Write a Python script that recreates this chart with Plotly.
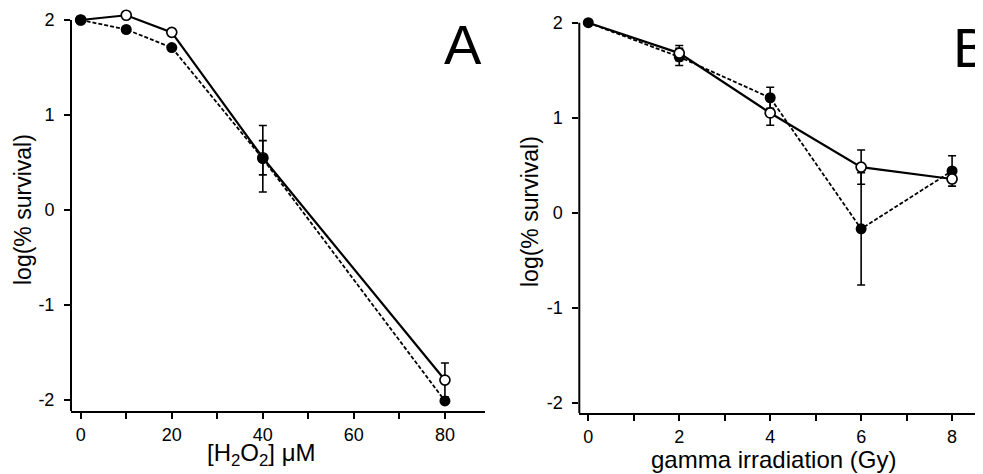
import plotly.graph_objects as go

# ---- data ----
h2o2_uM = [0, 10, 20, 40, 80]
A_filled = [2.0, 1.90, 1.71, 0.54, -2.01]
A_filled_err = [0, 0, 0, 0.35, 0]
A_open = [2.0, 2.05, 1.87, 0.55, -1.79]
A_open_err = [0, 0, 0, 0.18, 0.18]

gamma_Gy = [0, 2, 4, 6, 8]
B_filled = [2.0, 1.64, 1.21, -0.17, 0.44]
B_filled_err = [0, 0.09, 0.11, 0.59, 0.16]
B_open = [2.0, 1.68, 1.05, 0.48, 0.355]
B_open_err = [0, 0.08, 0.13, 0.18, 0]

x_ticks_A = [0, 20, 40, 60, 80]
x_ticks_B = [0, 2, 4, 6, 8]
y_ticks = [-2, -1, 0, 1, 2]
y_tick_text = ["-2", "-1", "0", "1", "2"]

FONT = "Liberation Sans, Arial, Helvetica, sans-serif"
# page body has an 8px margin: figure is placed at (8, 8) in the 983x474 window
OFF = 8
W, H = 983 - OFF, 474 - OFF


def fx(px):
    return (px - OFF) / W


def fy(py):
    return 1 - (py - OFF) / H


fig = go.Figure()


def err(arr):
    return dict(type="data", array=arr, visible=True, color="black",
                thickness=1.6, width=4)


# Panel A: open first, filled on top
fig.add_trace(go.Scatter(
    x=h2o2_uM, y=A_open, mode="lines+markers", xaxis="x", yaxis="y",
    line=dict(color="black", width=2.2),
    marker=dict(symbol="circle", size=10, color="white", opacity=1,
                line=dict(color="black", width=1.7)),
    error_y=err(A_open_err), cliponaxis=False, showlegend=False))
fig.add_trace(go.Scatter(
    x=h2o2_uM, y=A_filled, mode="lines+markers", xaxis="x", yaxis="y",
    line=dict(color="black", width=1.8, dash="4px,2px"),
    marker=dict(symbol="circle", size=11, color="black", opacity=1),
    error_y=err(A_filled_err), cliponaxis=False, showlegend=False))

# Panel B: filled first, open on top (first open marker hidden under filled)
fig.add_trace(go.Scatter(
    x=gamma_Gy, y=B_filled, mode="lines+markers", xaxis="x2", yaxis="y2",
    line=dict(color="black", width=1.8, dash="4px,2px"),
    marker=dict(symbol="circle", size=11, color="black", opacity=1),
    error_y=err(B_filled_err), cliponaxis=False, showlegend=False))
fig.add_trace(go.Scatter(
    x=gamma_Gy, y=B_open, mode="lines+markers", xaxis="x2", yaxis="y2",
    line=dict(color="black", width=2.2),
    marker=dict(symbol="circle", size=[0, 10, 10, 10, 10], color="white", opacity=1,
                line=dict(color="black", width=1.7)),
    error_y=err(B_open_err), cliponaxis=False, showlegend=False))

tickfont = dict(family=FONT, size=18, color="black")


def xax(domain, rng, tickvals, minor_dtick, anchor):
    return dict(domain=domain, range=rng, anchor=anchor,
                showline=True, linecolor="black", linewidth=2,
                ticks="outside", ticklen=6, tickwidth=1.6, tickcolor="black",
                tickvals=tickvals, tickfont=tickfont, ticklabelstandoff=0,
                minor=dict(ticks="outside", ticklen=6, tickwidth=1.6,
                           tickcolor="black", dtick=minor_dtick, showgrid=False),
                showgrid=False, zeroline=False, fixedrange=True)


def yax(domain, rng, anchor):
    return dict(domain=domain, range=rng, anchor=anchor,
                showline=False,
                ticks="outside", ticklen=6, tickwidth=1.6, tickcolor="black",
                tickvals=y_ticks, ticktext=y_tick_text,
                tickfont=tickfont, ticklabelstandoff=6,
                showgrid=False, zeroline=False, fixedrange=True)


yA_rng = [-2.116, 2.1]
yB_rng = [-2.108, 2.1]

fig.update_layout(
    width=W, height=H,
    margin=dict(l=0, r=0, t=0, b=0),
    paper_bgcolor="white", plot_bgcolor="white",
    font=dict(family=FONT, color="black"),
    xaxis=xax([fx(71), fx(485)], [-2.13, 88.8], x_ticks_A, 10, "y"),
    yaxis=yax([fy(411), fy(10.5)], yA_rng, "x"),
    xaxis2=xax([fx(579.3), 1.0], [-0.198, 8.68], x_ticks_B, 1, "y2"),
    yaxis2=yax([fy(413), fy(13.2)], yB_rng, "x2"),
)

# y-axis lines stopping at the top tick
fig.add_shape(type="line", xref="x domain", yref="y", x0=0, x1=0,
              y0=yA_rng[0], y1=2, line=dict(color="black", width=2))
fig.add_shape(type="line", xref="x2 domain", yref="y2", x0=0, x1=0,
              y0=yB_rng[0], y1=2, line=dict(color="black", width=2))

ytitlefont = dict(family=FONT, size=23, color="black")
xtitlefont = dict(family=FONT, size=24, color="black")
fig.add_annotation(text="log(% survival)", xref="paper", yref="paper",
                   x=fx(23), y=fy(210), textangle=-90, showarrow=False,
                   font=ytitlefont, xanchor="center", yanchor="middle")
fig.add_annotation(text="log(% survival)", xref="paper", yref="paper",
                   x=fx(530), y=fy(212), textangle=-90, showarrow=False,
                   font=ytitlefont, xanchor="center", yanchor="middle")
fig.add_annotation(text="[H<sub>2</sub>O<sub>2</sub>] μM", xref="paper", yref="paper",
                   x=fx(262), y=fy(454), showarrow=False,
                   font=xtitlefont, xanchor="center", yanchor="middle")
fig.add_annotation(text="gamma irradiation (Gy)", xref="paper", yref="paper",
                   x=fx(773), y=fy(459), showarrow=False,
                   font=xtitlefont, xanchor="center", yanchor="middle")
fig.add_annotation(text="A", xref="paper", yref="paper",
                   x=fx(462.5), y=fy(45), showarrow=False,
                   font=dict(family=FONT, size=56, color="black"),
                   xanchor="center", yanchor="middle")
fig.add_annotation(text="B", xref="paper", yref="paper",
                   x=fx(951), y=fy(48), showarrow=False,
                   font=dict(family=FONT, size=56, color="black"),
                   xanchor="left", yanchor="middle")

fig.write_html("out.html")
